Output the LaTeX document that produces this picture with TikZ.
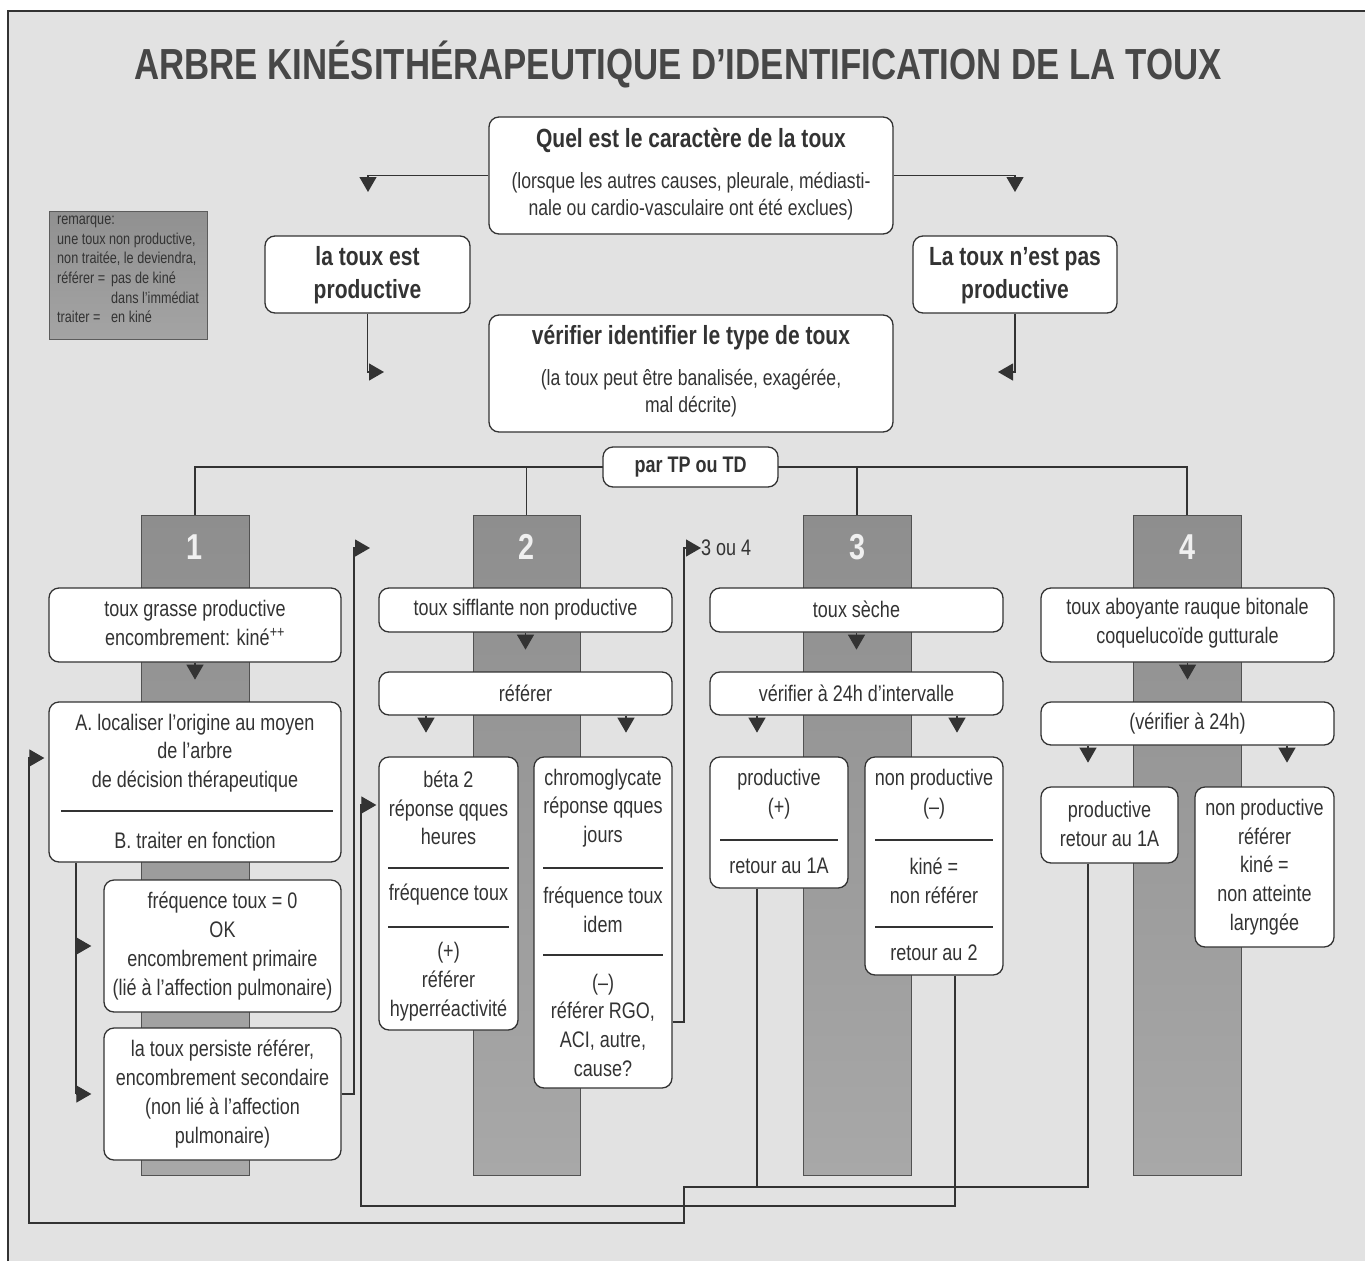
\documentclass[tikz,border=0pt]{standalone}
\usepackage{fontspec}
\setmainfont{Liberation Sans}[FakeStretch=0.8]
\usetikzlibrary{arrows.meta}
\definecolor{ink}{HTML}{333333}
\definecolor{bg}{HTML}{E2E2E2}
\definecolor{barfill}{HTML}{A8A8A8}
\definecolor{bartop}{HTML}{8E8E8E}
\definecolor{remfill}{HTML}{A4A4A4}
\begin{document}
\begin{tikzpicture}[x=1pt,y=-1pt,
  box/.style={draw=ink, fill=white, rounded corners=10pt, line width=1.3pt, inner sep=0pt},
  txt/.style={text=ink, font=\fontsize{22.5}{28.7}\selectfont, inner sep=0pt, align=center},
  btxt/.style={text=ink, font=\fontsize{26.3}{33}\selectfont\bfseries, inner sep=0pt, align=center},
  conn/.style={draw=ink, line width=1.2pt},
  tip/.style={conn, -{Triangle[length=15pt,width=17pt]}},
  rul/.style={draw=ink, line width=1.2pt},
  bar/.style={draw=ink!85, line width=1pt, top color=bartop, bottom color=barfill, minimum width=108pt, minimum height=660pt, inner sep=0pt},
  num/.style={text=white!94!black, font=\fontsize{36}{36}\selectfont\bfseries, inner sep=0pt},
]
\useasboundingbox (0,0) rectangle (1365,1261);
\fill[white] (0,0) rectangle (1365,1261);
\fill[bg] (8,11) rectangle (1365,1261);
\draw[ink, line width=1.3pt] (8,1261) -- (8,11) -- (1365,11);

% title
\node[text=ink!90, font=\fontsize{43.5}{43.5}\selectfont\bfseries, inner sep=0pt] (title) at (678,65)
  {ARBRE KINÉSITHÉRAPEUTIQUE D’IDENTIFICATION DE LA TOUX};

% remark box
\node[draw=ink!80, line width=1pt, top color=remfill!88!black, bottom color=remfill, minimum width=158pt, minimum height=128pt, inner sep=0pt] (rem) at (128,275) {};
\node[anchor=north west, text=ink, font=\fontsize{15.8}{19.6}\selectfont, inner sep=0pt, align=left] (remtxt) at (57,216)
  {remarque:\\une toux non productive,\\non traitée, le deviendra,\\\makebox[54pt][l]{référer =}pas de kiné\\\hspace*{54pt}dans l’immédiat\\\makebox[54pt][l]{traiter =}en kiné};

% top boxes
\node[box, minimum width=404pt, minimum height=117pt] (q) at (691,175.5) {};
\node[btxt] (qt) at (691,140) {Quel est le caractère de la toux};
\node[txt, font=\fontsize{22}{27}\selectfont] (qs) at (691,196.5) {(lorsque les autres causes, pleurale, médiasti-\\nale ou cardio-vasculaire ont été exclues)};

\node[box, minimum width=205pt, minimum height=77pt] (p) at (367.5,274.5) {};
\node[btxt] (pt) at (367.5,275.5) {la toux est\\productive};
\node[box, minimum width=204pt, minimum height=77pt] (n) at (1015,274.5) {};
\node[btxt] (nt) at (1015,275.5) {La toux n’est pas\\productive};

\node[box, minimum width=404pt, minimum height=117pt] (vt) at (691,373.5) {};
\node[btxt] (vtt) at (691,338) {vérifier identifier le type de toux};
\node[txt, font=\fontsize{22}{27}\selectfont] (vts) at (691,393) {(la toux peut être banalisée, exagérée,\\mal décrite)};

\draw[tip] (q.west) -| (368,192);
\draw[tip] (q.east) -| (1015,192);
\draw[tip] (p.south) |- (384,372);
\draw[tip] (n.south) |- (998,372);

% bars
\node[bar] (b1) at (195,845) {};
\node[bar, minimum width=107pt] (b2) at (526.5,845) {};
\node[bar] (b3) at (857,845) {};
\node[bar] (b4) at (1187,845) {};
\node[num] (n1) at (195,547) {1};
\node[num] (n2) at (526.5,547) {2};
\node[num] (n3) at (857,547) {3};
\node[num] (n4) at (1187,547) {4};

% par TP ou TD
\draw[conn] (b1.north) |- (1187,467) -- (b4.north);
\draw[conn] (b2.north) -- (526.5,467);
\draw[conn] (b3.north) -- (857,467);
\node[box, minimum width=175pt, minimum height=40pt] (tp) at (690.5,467) {};
\node[btxt, font=\fontsize{22.5}{26}\selectfont\bfseries] (tpt) at (690.5,467) {par TP ou TD};

% column 1
\node[box, minimum width=292pt, minimum height=74pt] (c1a) at (195,625) {};
\node[txt] (c1at) at (195,623) {toux grasse productive\\encombrement: kiné\textsuperscript{++}};
\node[box, minimum width=292pt, minimum height=160pt] (c1b) at (195,782) {};
\node[txt] (c1bt) at (195,753) {A. localiser l’origine au moyen\\de l’arbre\\de décision thérapeutique};
\draw[rul] (61,811) -- (333,811);
\node[txt] (c1bu) at (195,840) {B. traiter en fonction};
\node[box, minimum width=237pt, minimum height=132pt] (c1c) at (222.5,946) {};
\node[txt] (c1ct) at (222.5,946) {fréquence toux = 0\\OK\\encombrement primaire\\(lié à l’affection pulmonaire)};
\node[box, minimum width=237pt, minimum height=132pt] (c1d) at (222.5,1094) {};
\node[txt] (c1dt) at (222.5,1094) {la toux persiste référer,\\encombrement secondaire\\(non lié à l’affection\\pulmonaire)};
\draw[tip] (c1a.south) -- ++(0,17);

% column 2
\node[box, minimum width=293pt, minimum height=44pt] (c2a) at (525.5,610) {};
\node[txt] (c2at) at (525.5,610) {toux sifflante non productive};
\node[box, minimum width=293pt, minimum height=43pt] (c2b) at (525.5,693.5) {};
\node[txt] (c2bt) at (525.5,693.5) {référer};
\node[box, minimum width=139pt, minimum height=273pt] (c2c) at (448.5,893.5) {};
\node[txt] (c2ct) at (448.5,808) {béta 2\\réponse qques\\heures};
\draw[rul] (388,868) -- (509,868);
\node[txt] (c2cu) at (448.5,895) {fréquence toux};
\draw[rul] (388,927) -- (509,927);
\node[txt] (c2cv) at (448.5,981.5) {(+)\\référer\\hyperréactivité};
\node[box, minimum width=138pt, minimum height=331pt] (c2d) at (603,922.5) {};
\node[txt] (c2dt) at (603,808) {chromoglycate\\réponse qques\\jours};
\draw[rul] (543,868) -- (663,868);
\node[txt] (c2du) at (603,909.5) {fréquence toux\\idem};
\draw[rul] (543,955) -- (663,955);
\node[txt] (c2dv) at (603,1025) {(–)\\référer RGO,\\ACI, autre,\\cause?};
\draw[tip] (c2a.south) -- ++(0,17);
\draw[tip] (c2b.south -| 426,0) -- ++(0,17);
\draw[tip] (c2b.south -| 626,0) -- ++(0,17);

% column 3
\node[box, minimum width=293pt, minimum height=44pt] (c3a) at (856.5,610) {};
\node[txt] (c3at) at (856.5,609) {toux sèche};
\node[box, minimum width=293pt, minimum height=43pt] (c3b) at (856.5,693.5) {};
\node[txt] (c3bt) at (856.5,693.5) {vérifier à 24h d’intervalle};
\node[box, minimum width=138pt, minimum height=131pt] (c3c) at (779,822.5) {};
\node[txt] (c3ct) at (779,794) {productive\\(+)};
\draw[rul] (720,840) -- (838,840);
\node[txt] (c3cu) at (779,866) {retour au 1A};
\node[box, minimum width=138pt, minimum height=218pt] (c3d) at (934,866) {};
\node[txt] (c3dt) at (934,794) {non productive\\(–)};
\draw[rul] (875,840) -- (993,840);
\node[txt] (c3du) at (934,880.5) {kiné =\\non référer};
\draw[rul] (875,927) -- (993,927);
\node[txt] (c3dv) at (934,953) {retour au 2};
\draw[tip] (c3a.south) -- ++(0,17);
\draw[tip] (c3b.south -| 757,0) -- ++(0,17);
\draw[tip] (c3b.south -| 957,0) -- ++(0,17);

% column 4
\node[box, minimum width=293pt, minimum height=74pt] (c4a) at (1187.5,625) {};
\node[txt] (c4at) at (1187.5,623) {toux aboyante rauque bitonale\\coquelucoïde gutturale};
\node[box, minimum width=293pt, minimum height=43pt] (c4b) at (1187.5,723.5) {};
\node[txt] (c4bt) at (1187.5,723.5) {(vérifier à 24h)};
\node[box, minimum width=137pt, minimum height=76pt] (c4c) at (1109.5,825) {};
\node[txt] (c4ct) at (1109.5,824) {productive\\retour au 1A};
\node[box, minimum width=139pt, minimum height=160pt] (c4d) at (1264.5,867) {};
\node[txt] (c4dt) at (1264.5,867) {non productive\\référer\\kiné =\\non atteinte\\laryngée};
\draw[tip] (c4a.south) -- ++(0,17);
\draw[tip] (c4b.south -| 1088,0) -- ++(0,17);
\draw[tip] (c4b.south -| 1287,0) -- ++(0,17);

% side connectors column 1
\draw[conn] (c1b.south -| 76,0) -- (76,1094);
\draw[tip, shorten >=12pt] (76,946) -- (c1c.west);
\draw[tip, shorten >=12pt] (76,1094) -- (c1d.west);
\draw[tip] (c1d.east) -- (354,1094) -- (354,548) -- (370,548);

% 3 ou 4
\node[txt, anchor=west] (t34) at (701,548) {3 ou 4};
\draw[tip] (c2d.east |- 0,1022) -- (684,1022) -- (684,548) -- (t34.west);

% retour au 2
\draw[tip, shorten >=2pt] (c3d.south -| 955,0) -- (955,1206) -- (361,1206) -- (361,805) -- (c2c.west |- 0,805);

% retour au 1A
\draw[conn] (c3c.south -| 757,0) -- (757,1187);
\draw[tip, shorten >=4pt] (c4c.south -| 1088,0) -- (1088,1187) -- (684,1187) -- (684,1223) -- (29,1223) -- (29,758) -- (c1b.west |- 0,758);
\end{tikzpicture}
\end{document}
